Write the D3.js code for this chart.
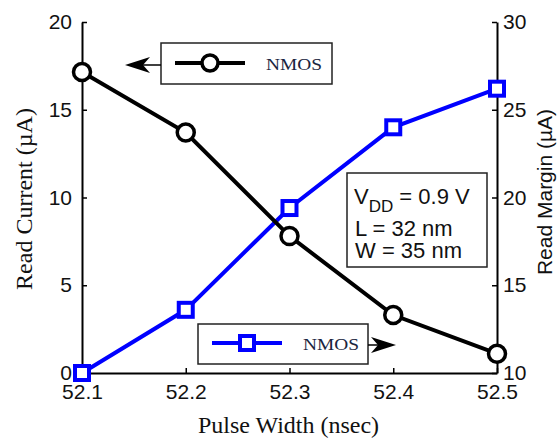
<!DOCTYPE html>
<html><head><meta charset="utf-8">
<script src="https://cdn.jsdelivr.net/npm/d3@7"></script>
<style>body{margin:0;background:#fff}</style>
</head><body>
<script>
const pulseWidth = [52.1, 52.2, 52.3, 52.4, 52.5];
const readCurrent = [17.15, 13.7, 7.8, 3.3, 1.1];
const readMargin = [10.0, 13.6, 19.4, 24.0, 26.2];
const xTicks = [52.1, 52.2, 52.3, 52.4, 52.5];
const yLeftTicks = [0, 5, 10, 15, 20];
const yRightTicks = [10, 15, 20, 25, 30];
const seriesLabel = "NMOS";

const W = 558, H = 439;
const m = {l: 82, r: 61, t: 22, b: 66};
const svg = d3.select("body").append("svg").attr("width", W).attr("height", H);

const x = d3.scaleLinear().domain([52.1, 52.5]).range([m.l, W - m.r]);
const yL = d3.scaleLinear().domain([0, 20]).range([H - m.b, m.t]);
const yR = d3.scaleLinear().domain([10, 30]).range([H - m.b, m.t]);

const sans = "'Liberation Sans', Arial, sans-serif";
const serif = "'Liberation Serif', 'Times New Roman', serif";

function styleAxis(g) {
  g.select(".domain").attr("stroke", "#000").attr("stroke-width", 2);
  g.selectAll(".tick line").attr("stroke", "#000").attr("stroke-width", 1.5);
  g.selectAll(".tick text").attr("fill", "#111").style("font-family", sans).style("font-size", "21px");
}

svg.append("g").attr("transform", `translate(0,${H - m.b})`)
  .call(d3.axisBottom(x).tickValues(xTicks).tickFormat(d3.format(".1f")).tickSizeInner(-5).tickSizeOuter(0).tickPadding(11))
  .call(styleAxis);
svg.append("g").attr("transform", `translate(${m.l},0)`)
  .call(d3.axisLeft(yL).tickValues(yLeftTicks).tickSizeInner(-5).tickSizeOuter(0).tickPadding(10))
  .call(styleAxis);
svg.append("g").attr("transform", `translate(${W - m.r},0)`)
  .call(d3.axisRight(yR).tickValues(yRightTicks).tickSizeInner(-5).tickSizeOuter(0).tickPadding(6))
  .call(styleAxis);

// axis titles
svg.append("text").attr("x", (m.l + W - m.r) / 2 - 1).attr("y", 433)
  .attr("text-anchor", "middle").style("font-family", serif).style("font-size", "24px").attr("fill", "#111")
  .text("Pulse Width (nsec)");
svg.append("text").attr("transform", "translate(32,199) rotate(-90)")
  .attr("text-anchor", "middle").style("font-family", serif).style("font-size", "24px").attr("fill", "#111")
  .text("Read Current (\u00b5A)");
svg.append("text").attr("transform", "translate(552,192) rotate(-90)")
  .attr("text-anchor", "middle").style("font-family", sans).style("font-size", "21px").attr("fill", "#111")
  .text("Read Margin (\u00b5A)");

// blue series (right axis)
const blue = "#0000ff";
const lineR = d3.line().x((d, i) => x(pulseWidth[i])).y(d => yR(d));
svg.append("path").datum(readMargin).attr("d", lineR).attr("fill", "none").attr("stroke", blue).attr("stroke-width", 4);
svg.selectAll(".sq").data(readMargin).enter().append("rect")
  .attr("x", (d, i) => x(pulseWidth[i]) - 7).attr("y", d => yR(d) - 7)
  .attr("width", 14).attr("height", 14).attr("fill", "#fff").attr("stroke", blue).attr("stroke-width", 4);

// black series (left axis)
const lineL = d3.line().x((d, i) => x(pulseWidth[i])).y(d => yL(d));
svg.append("path").datum(readCurrent).attr("d", lineL).attr("fill", "none").attr("stroke", "#000").attr("stroke-width", 4);
svg.selectAll(".ci").data(readCurrent).enter().append("circle")
  .attr("cx", (d, i) => x(pulseWidth[i])).attr("cy", d => yL(d)).attr("r", 8.5)
  .attr("fill", "#fff").attr("stroke", "#000").attr("stroke-width", 3.5);

// legend 1 (black)
svg.append("rect").attr("x", 161).attr("y", 43).attr("width", 171).attr("height", 41)
  .attr("fill", "#fff").attr("stroke", "#222").attr("stroke-width", 1.5);
svg.append("line").attr("x1", 175).attr("x2", 245).attr("y1", 63).attr("y2", 63).attr("stroke", "#000").attr("stroke-width", 4);
svg.append("circle").attr("cx", 210).attr("cy", 63).attr("r", 8).attr("fill", "#fff").attr("stroke", "#000").attr("stroke-width", 3.5);
svg.append("text").attr("x", 266).attr("y", 70).style("font-family", serif).style("font-size", "17px")
  .attr("fill", "#1a2540").attr("textLength", 56).attr("lengthAdjust", "spacingAndGlyphs").text(seriesLabel);
// arrow left
svg.append("line").attr("x1", 161).attr("x2", 132).attr("y1", 65).attr("y2", 65).attr("stroke", "#000").attr("stroke-width", 1.5);
svg.append("path").attr("d", "M125,65 L150,57 L143,65 L150,73 Z").attr("fill", "#000");

// legend 2 (blue)
svg.append("rect").attr("x", 198).attr("y", 324).attr("width", 170).attr("height", 40)
  .attr("fill", "#fff").attr("stroke", "#222").attr("stroke-width", 1.5);
svg.append("line").attr("x1", 212).attr("x2", 282).attr("y1", 343).attr("y2", 343).attr("stroke", blue).attr("stroke-width", 4);
svg.append("rect").attr("x", 240).attr("y", 336).attr("width", 14).attr("height", 14).attr("fill", "#fff").attr("stroke", blue).attr("stroke-width", 4);
svg.append("text").attr("x", 303).attr("y", 350).style("font-family", serif).style("font-size", "17px")
  .attr("fill", "#1a2540").attr("textLength", 56).attr("lengthAdjust", "spacingAndGlyphs").text(seriesLabel);
// arrow right
svg.append("line").attr("x1", 368).attr("x2", 390).attr("y1", 345).attr("y2", 345).attr("stroke", "#000").attr("stroke-width", 1.5);
svg.append("path").attr("d", "M396,345 L371,337 L378,345 L371,353 Z").attr("fill", "#000");

// annotation box
svg.append("rect").attr("x", 347).attr("y", 173).attr("width", 140).attr("height", 94)
  .attr("fill", "#fff").attr("stroke", "#222").attr("stroke-width", 1.5);
const ann = svg.append("g").style("font-family", sans).style("font-size", "22px").attr("fill", "#111");
const t1 = ann.append("text").attr("x", 354).attr("y", 204);
t1.append("tspan").text("V");
t1.append("tspan").attr("dy", 8).style("font-size", "17px").text("DD");
t1.append("tspan").attr("dy", -8).text(" = 0.9 V");
ann.append("text").attr("x", 355).attr("y", 236).text("L = 32 nm");
ann.append("text").attr("x", 355).attr("y", 258).text("W = 35 nm");
</script>
</body></html>
